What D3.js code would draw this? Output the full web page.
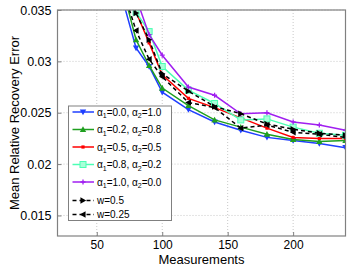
<!DOCTYPE html>
<html><head><meta charset="utf-8">
<script src="https://cdn.jsdelivr.net/npm/d3@7"></script>
<style>body{margin:0;background:#fff}svg{display:block;font-family:"Liberation Sans",Arial,sans-serif}</style>
</head><body><svg id="c" width="353" height="267"></svg>
<script>
const measurements = [70, 80, 90, 100, 120, 140, 160, 180, 200, 220, 240];
const blueVals   = [0.0359, 0.0313, 0.0295, 0.0270, 0.0253, 0.0241, 0.0233, 0.0226, 0.0223, 0.0220, 0.0216];
const greenVals  = [0.0370, 0.0321, 0.0296, 0.0274, 0.0257, 0.0243, 0.0236, 0.0229, 0.0224, 0.0222, 0.0223];
const redVals    = [0.0390, 0.0348, 0.0318, 0.0287, 0.0264, 0.0255, 0.0245, 0.0235, 0.0226, 0.0225, 0.0225];
const cyanVals   = [0.0385, 0.0348, 0.0329, 0.0295, 0.0272, 0.0259, 0.0243, 0.0244, 0.0236, 0.0230, 0.0228];
const purpleVals = [0.0400, 0.0362, 0.0326, 0.0306, 0.0275, 0.0267, 0.0249, 0.0250, 0.0241, 0.0238, 0.0233];
const w05Vals    = [0.0385, 0.0347, 0.0321, 0.0288, 0.0271, 0.0256, 0.0249, 0.0239, 0.0234, 0.0230, 0.0228];
const w025Vals   = [0.0370, 0.0330, 0.0302, 0.0285, 0.0260, 0.0255, 0.0235, 0.0238, 0.0231, 0.0229, 0.0226];
const xTicks = [50, 100, 150, 200];
const yTicks = [0.015, 0.02, 0.025, 0.03, 0.035];
const yTickLabels = ["0.015", "0.02", "0.025", "0.03", "0.035"];
const seriesNames = ["a0", "a2", "a5", "a8", "a10", "w05", "w025"];
const legendA1 = ["0.0", "0.2", "0.5", "0.8", "1.0"];
const legendA2 = ["1.0", "0.8", "0.5", "0.2", "0.0"];
const wLabels = ["w=0.5", "w=0.25"];

const series = [
  {vals: blueVals, color: "#1f3fff", marker: "down", dash: null},
  {vals: greenVals, color: "#1f9f1f", marker: "up", dash: null},
  {vals: redVals, color: "#ff0000", marker: "dot", dash: null},
  {vals: cyanVals, color: "#4cffb4", marker: "square", dash: null},
  {vals: purpleVals, color: "#a01ff0", marker: "plus", dash: null},
  {vals: w05Vals, color: "#000000", marker: "right", dash: "4,3"},
  {vals: w025Vals, color: "#000000", marker: "left", dash: "4,3"}
];

const svg = d3.select("#c");
const L = 57.5, R = 345.5, T = 10, B = 236;
const x = d3.scaleLinear().domain([20, 240]).range([L, R]);
const y = d3.scaleLinear().domain([0.013, 0.035]).range([B, T]);

// grid
const grid = svg.append("g");
xTicks.forEach(t => grid.append("line").attr("x1", x(t)).attr("x2", x(t)).attr("y1", T).attr("y2", B)
  .attr("stroke", "#c8c8c8").attr("stroke-width", 1).attr("stroke-dasharray", "1,2"));
yTicks.forEach(t => grid.append("line").attr("x1", L).attr("x2", R).attr("y1", y(t)).attr("y2", y(t))
  .attr("stroke", "#c8c8c8").attr("stroke-width", 1).attr("stroke-dasharray", "1,2"));

// axes
const xAxis = d3.axisBottom(x).tickValues(xTicks).tickSize(-4).tickPadding(4).tickFormat(d3.format("d"));
const yAxis = d3.axisLeft(y).tickValues(yTicks).tickSize(-4).tickPadding(6).tickFormat((d, i) => yTickLabels[i]);
const gx = svg.append("g").attr("transform", `translate(0,${B})`).call(xAxis);
const gy = svg.append("g").attr("transform", `translate(${L},0)`).call(yAxis);
[gx, gy].forEach(g => {
  g.select(".domain").remove();
  g.selectAll("line").attr("stroke", "#808080");
  g.selectAll("text").attr("fill", "#000").style("font-size", "12.5px").style("font-family", '"Liberation Sans",Arial,sans-serif');
});
gx.selectAll("text").attr("dy", "0.71em").style("font-size", "12px");

// clip
svg.append("clipPath").attr("id", "clip").append("rect").attr("x", L).attr("y", T).attr("width", R - L).attr("height", B - T);
const plot = svg.append("g").attr("clip-path", "url(#clip)");

const line = d3.line().x((d, i) => x(measurements[i])).y(d => y(d));

function drawMarker(g, type, cx, cy, color) {
  const s = 3.2;
  if (type === "down") g.append("path").attr("d", `M${cx - s},${cy - s * 0.8}L${cx + s},${cy - s * 0.8}L${cx},${cy + s}Z`).attr("fill", color);
  else if (type === "up") g.append("path").attr("d", `M${cx - s},${cy + s * 0.8}L${cx + s},${cy + s * 0.8}L${cx},${cy - s}Z`).attr("fill", color);
  else if (type === "dot") g.append("rect").attr("x", cx - 1.6).attr("y", cy - 1.6).attr("width", 3.2).attr("height", 3.2).attr("fill", color);
  else if (type === "square") g.append("rect").attr("x", cx - 3).attr("y", cy - 3).attr("width", 6).attr("height", 6).attr("fill", "#a8ffd8").attr("stroke", color).attr("stroke-width", 1);
  else if (type === "plus") g.append("path").attr("d", `M${cx - 2.5},${cy}L${cx + 2.5},${cy}M${cx},${cy - 2.5}L${cx},${cy + 2.5}`).attr("stroke", color).attr("stroke-width", 1.3);
  else if (type === "right") g.append("path").attr("d", `M${cx - s * 0.8},${cy - s}L${cx - s * 0.8},${cy + s}L${cx + s},${cy}Z`).attr("fill", color);
  else if (type === "left") g.append("path").attr("d", `M${cx + s * 0.8},${cy - s}L${cx + s * 0.8},${cy + s}L${cx - s},${cy}Z`).attr("fill", color);
}

series.forEach((s, k) => {
  const g = plot.append("g").attr("class", seriesNames[k]);
  g.append("path").datum(s.vals).attr("d", line).attr("fill", "none").attr("stroke", s.color)
    .attr("stroke-width", 1.5).attr("stroke-dasharray", s.dash);
  s.vals.forEach((v, i) => drawMarker(g, s.marker, x(measurements[i]), y(v), s.color));
});

// frame
svg.append("rect").attr("x", L).attr("y", T).attr("width", R - L).attr("height", B - T)
  .attr("fill", "none").attr("stroke", "#808080").attr("stroke-width", 1.2);

// axis labels
svg.append("text").attr("x", (L + R) / 2).attr("y", 263.5).attr("text-anchor", "middle")
  .style("font-size", "13px").text("Measurements");
svg.append("text").attr("transform", `translate(19,${(T + B) / 2}) rotate(-90)`).attr("text-anchor", "middle")
  .style("font-size", "13px").text("Mean Relative Recovery Error");

// legend
const lg = svg.append("g");
lg.append("rect").attr("x", 68.5).attr("y", 106).attr("width", 103).attr("height", 114.5)
  .attr("fill", "#fff").attr("stroke", "#808080").attr("stroke-width", 1);
const rowsY = [112, 129.5, 147, 164.5, 182, 200.5, 214.5];
series.forEach((s, k) => {
  const yy = rowsY[k];
  lg.append("line").attr("x1", 72.5).attr("x2", 94).attr("y1", yy).attr("y2", yy)
    .attr("stroke", s.color).attr("stroke-width", 1.5).attr("stroke-dasharray", s.dash);
  drawMarker(lg, s.marker, 83, yy, s.color);
  const t = lg.append("text").attr("x", 97).attr("y", yy + 3.5).style("font-size", "10px");
  if (k < 5) {
    t.append("tspan").text("α");
    t.append("tspan").attr("dy", 2.5).style("font-size", "7px").text("1");
    t.append("tspan").attr("dy", -2.5).text("=" + legendA1[k] + ", α");
    t.append("tspan").attr("dy", 2.5).style("font-size", "7px").text("2");
    t.append("tspan").attr("dy", -2.5).text("=" + legendA2[k]);
  } else {
    t.text(wLabels[k - 5]);
  }
});
</script></body></html>
